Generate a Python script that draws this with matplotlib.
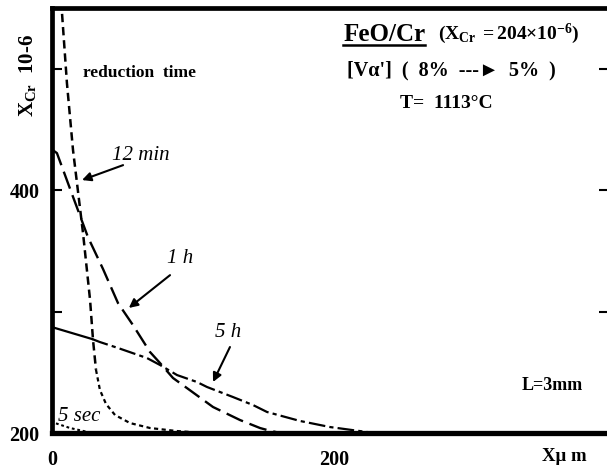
import matplotlib
matplotlib.use("Agg")
import matplotlib.pyplot as plt
from matplotlib.lines import Line2D

plt.rcParams["font.family"] = ["Liberation Serif", "DejaVu Sans"]
plt.rcParams["mathtext.fontset"] = "custom"
plt.rcParams["mathtext.rm"] = "Liberation Serif"
plt.rcParams["mathtext.bf"] = "Liberation Serif:bold"
plt.rcParams["mathtext.it"] = "Liberation Serif:italic"
plt.rcParams["lines.scale_dashes"] = False

# curves (x in um, X_Cr in 1e-6)
x_12min = [6.4, 7.1, 10.6, 14.9, 22.0, 27.0, 29.1, 31.2]
y_12min = [556, 545.7, 488, 433, 364.6, 309.5, 276.5, 252]
x_12min_tail = [31.2, 34.0, 38.3, 44.7, 55.3, 69.5, 88.7, 108.5]
y_12min_tail = [252, 235.4, 223.9, 214.8, 208.2, 204.1, 201.6, 200]

x_1h = [0.5, 3.5, 14.2, 25.5, 36.2, 46.8, 57.4, 69.5, 76.6, 85.8, 95.7, 114.2, 133.3, 147.5, 152.5, 161.7]
y_1h = [433, 430.5, 396.7, 361.3, 335, 307, 288.9, 266.7, 257.6, 245.3, 237, 221.4, 210.7, 204.1, 202.5, 200]

x_5h_head = [0, 28.4]
y_5h_head = [287.2, 277.4]
x_5h = [28.4, 34, 46.8, 67.4, 76.6, 88.7, 102.8, 109.9, 128.4, 142.6, 152.5, 175.9, 197.2, 223.4, 232.6]
y_5h = [277.4, 274.9, 270, 261.7, 256, 247.7, 242, 237.9, 229.6, 223, 217.3, 209.9, 204.9, 200.8, 200]

x_5sec = [0, 2.1, 12.8, 25.5, 28]
y_5sec = [211, 208.2, 204.1, 200.8, 200]

yticks = [200, 300, 400, 500]
ytick_labels = ["200", "", "400", ""]
xticks = [0, 200]
xtick_labels = ["0", "200"]

W, H = 607, 473
fig = plt.figure(figsize=(W / 100, H / 100), dpi=100)
ax = fig.add_axes([52 / W, 40 / H, 557 / W, 425 / H])
ax.set_xlim(0, 395)
ax.set_ylim(200, 550)

k = "black"
ax.plot(x_12min, y_12min, color=k, lw=1.8, dashes=(6, 3.5))
ax.plot(x_12min_tail, y_12min_tail, color=k, lw=1.6, dashes=(3, 2.5))
ax.plot(x_1h, y_1h, color=k, lw=1.7, dashes=(13, 5))
ax.plot(x_5h_head, y_5h_head, color=k, lw=1.6)
ax.plot(x_5h, y_5h, color=k, lw=1.6, dashes=(12, 3, 3, 3))
ax.plot(x_5sec, y_5sec, color=k, lw=1.5, dashes=(2, 2))

for s in ax.spines.values():
    s.set_linewidth(3.4)
ax.spines["bottom"].set_linewidth(3.8)

ax.set_yticks(yticks)
ax.set_yticklabels(ytick_labels)
ax.set_xticks(xticks)
ax.set_xticklabels(xtick_labels)
ax.tick_params(axis="y", direction="in", length=7, width=1.5, pad=9,
               labelsize=14.5, right=True)
ax.tick_params(axis="x", length=0, pad=12, labelsize=14.5)
for lab in ax.get_xticklabels() + ax.get_yticklabels():
    lab.set_fontweight("bold")

arrow = dict(arrowstyle="-|>", color=k, lw=1.5, mutation_scale=13, shrinkA=0, shrinkB=0)
ax.annotate("", xy=(21.3, 408.3), xytext=(50.4, 420.6), arrowprops=arrow)
ax.annotate("", xy=(54.5, 303.0), xytext=(83.7, 330.0), arrowprops=arrow)
ax.annotate("", xy=(114.2, 242.0), xytext=(126.2, 270.8), arrowprops=arrow)

it = dict(fontsize=15, style="italic", va="center", ha="left")
ax.text(42.6, 428.8, "12 min", **it)
ax.text(81.6, 344, "1 h", **it)
ax.text(115.6, 283.1, "5 h", **it)
ax.text(4.3, 213.2, "5 sec", **it)

bd = dict(fontweight="bold", va="center", ha="left")
ax.text(22, 496.3, "reduction  time", fontsize=12.5, **bd)
ax.text(333.3, 239.5, "L=3mm", fontsize=13, **bd)
title = ax.text(206.4, 528, "FeO/Cr", fontsize=18, **bd)
ax.text(274, 528.5, r"$\mathbf{(X_{Cr}\ =204{\times}10^{-6})}$", fontsize=14, **bd)
ax.text(209.2, 498.8, "[Vα']  (  8%  ---\u25ba  5%  )", fontsize=14.5, **bd)
ax.text(246.8, 471.6, "T=  1113°C", fontsize=14, **bd)

fig.text(28 / W, 1 - 76 / H, r"$\mathbf{X_{Cr}}$  10-6", rotation=90,
         fontsize=15, fontweight="bold", ha="center", va="center")
fig.text(542 / W, 1 - 456 / H, "Xμ m", fontsize=13.5, fontweight="bold",
         ha="left", va="center")

# underline the FeO/Cr title
fig.canvas.draw()
bb = title.get_window_extent()
fig.add_artist(Line2D([bb.x0, bb.x1], [bb.y0 + 1, bb.y0 + 1], color=k, lw=1.8,
                      transform=None))

fig.savefig("out.png", dpi=100)
